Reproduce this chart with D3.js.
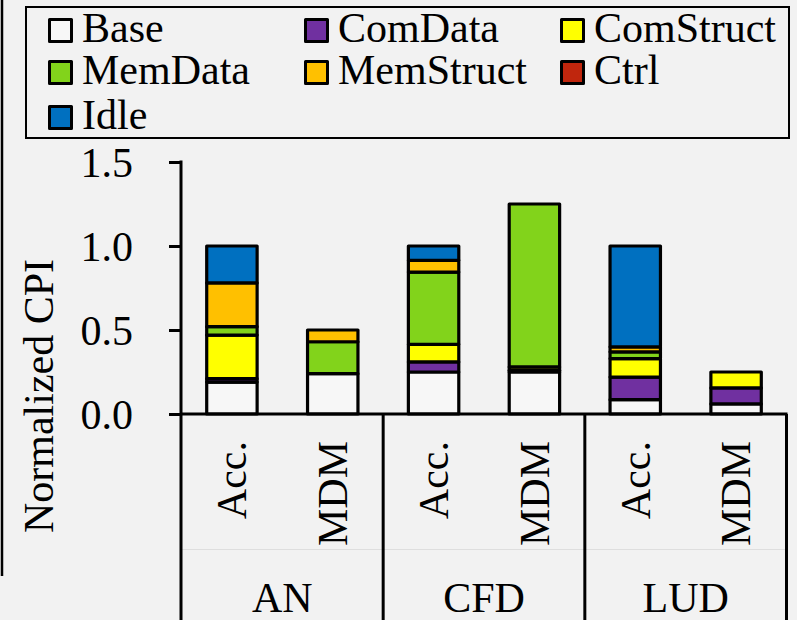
<!DOCTYPE html>
<html>
<head>
<meta charset="utf-8">
<script src="https://cdn.jsdelivr.net/npm/d3@7"></script>
<style>
  html, body { margin: 0; padding: 0; background: #f2f2f2; }
  svg { display: block; }
  text { font-family: "Liberation Serif", "Times New Roman", serif; fill: #000; }
</style>
</head>
<body>
<svg id="chart" width="797" height="620"></svg>
<script>
// Benchmarks and configurations
const groups = ["AN", "CFD", "LUD"];
const configs = ["Acc.", "MDM"];
const seriesNames = ["Base", "ComData", "ComStruct", "MemData", "MemStruct", "Ctrl", "Idle"];
const seriesColors = ["#f7f7f7", "#7030a0", "#ffff00", "#82d31b", "#ffc000", "#c0260d", "#0070c0"];
const yTicks = [0, 0.5, 1.0, 1.5];

// CPI components per bar, ordered AN Acc., AN MDM, CFD Acc., CFD MDM, LUD Acc., LUD MDM
const base      = [0.19, 0.24, 0.25, 0.25, 0.085, 0.06];
const comData   = [0.02, 0.00, 0.06, 0.01, 0.135, 0.095];
const comStruct = [0.26, 0.00, 0.105, 0.02, 0.11, 0.095];
const memData   = [0.05, 0.19, 0.43, 0.97, 0.04, 0.00];
const memStruct = [0.26, 0.07, 0.07, 0.00, 0.03, 0.00];
const ctrl      = [0.00, 0.00, 0.00, 0.00, 0.00, 0.00];
const idle      = [0.22, 0.00, 0.085, 0.00, 0.60, 0.00];

const seriesValues = [base, comData, comStruct, memData, memStruct, ctrl, idle];

// Build rows for the stack layout
const rows = [];
groups.forEach((g, gi) => {
  configs.forEach((c, ci) => {
    const idx = gi * configs.length + ci;
    const row = { group: g, config: c };
    seriesNames.forEach((s, si) => { row[s] = seriesValues[si][idx]; });
    rows.push(row);
  });
});

const svg = d3.select("#chart");
const FONT = 42;

const x0 = d3.scaleBand().domain(groups).range([181.5, 786.5]).padding(0);
const x1 = d3.scaleBand().domain(configs).range([0, x0.bandwidth()])
  .paddingInner(0.5).paddingOuter(0.25);
const y = d3.scaleLinear().domain([0, 1.5]).range([414, 162]);
const color = d3.scaleOrdinal().domain(seriesNames).range(seriesColors);

// Outer frame line on the left
svg.append("line").attr("x1", 2).attr("x2", 2).attr("y1", 0).attr("y2", 576)
  .attr("stroke", "#000").attr("stroke-width", 2.5);

// Faint row divider inside the category table
svg.append("line").attr("x1", 181).attr("x2", 786).attr("y1", 549.5).attr("y2", 549.5)
  .attr("stroke", "#dedede").attr("stroke-width", 1);

// Stacked bars
const stacked = d3.stack().keys(seriesNames)(rows);
const barG = svg.append("g");
stacked.forEach(layer => {
  barG.append("g")
    .attr("fill", color(layer.key))
    .selectAll("rect")
    .data(layer.filter(d => d[1] - d[0] > 0))
    .join("rect")
    .attr("x", d => x0(d.data.group) + x1(d.data.config))
    .attr("width", x1.bandwidth())
    .attr("y", d => y(d[1]))
    .attr("height", d => y(d[0]) - y(d[1]))
    .attr("stroke", "#000")
    .attr("stroke-width", 3.2)
    .attr("stroke-linejoin", "round");
});

// Y axis
const yAxis = d3.axisLeft(y).tickValues(yTicks).tickFormat(d3.format(".1f"))
  .tickSize(12).tickPadding(36);
const yG = svg.append("g").attr("transform", "translate(181,0)").call(yAxis);
yG.select(".domain").remove();
yG.selectAll(".tick line").attr("stroke", "#000").attr("stroke-width", 3);
yG.selectAll(".tick text").attr("font-size", FONT)
  .attr("font-family", "Liberation Serif, Times New Roman, serif").attr("dy", "0.34em");
svg.append("line").attr("x1", 181).attr("x2", 181).attr("y1", y(1.5) - 1.5).attr("y2", 620)
  .attr("stroke", "#000").attr("stroke-width", 3);

// X axis baseline and group separators
svg.append("line").attr("x1", 181).attr("x2", 787.5).attr("y1", y(0)).attr("y2", y(0))
  .attr("stroke", "#000").attr("stroke-width", 3);
groups.forEach(g => {
  const xr = x0(g) + x0.bandwidth();
  svg.append("line").attr("x1", xr).attr("x2", xr).attr("y1", y(0)).attr("y2", 620)
    .attr("stroke", "#000").attr("stroke-width", 3);
});

// Configuration labels (rotated) and benchmark labels
rows.forEach(r => {
  const cx = x0(r.group) + x1(r.config) + x1.bandwidth() / 2;
  svg.append("text")
    .attr("transform", `translate(${cx},441) rotate(-90)`)
    .attr("text-anchor", "end")
    .attr("dy", "0.34em")
    .attr("font-size", FONT)
    .text(r.config);
});
groups.forEach(g => {
  svg.append("text")
    .attr("x", x0(g) + x0.bandwidth() / 2)
    .attr("y", 612)
    .attr("text-anchor", "middle")
    .attr("font-size", FONT)
    .text(g);
});

// Y axis title
svg.append("text")
  .attr("transform", "translate(39,396) rotate(-90)")
  .attr("text-anchor", "middle")
  .attr("dy", "0.34em")
  .attr("font-size", FONT)
  .text("Normalized CPI");

// Legend
svg.append("rect").attr("x", 26).attr("y", 7).attr("width", 763).attr("height", 131)
  .attr("fill", "none").attr("stroke", "#000").attr("stroke-width", 2);
const legCols = [49.5, 305.5, 561.5];
const legRows = [19.5, 61.5, 106.5];
seriesNames.forEach((s, i) => {
  const lx = legCols[i % 3];
  const ly = legRows[Math.floor(i / 3)];
  const item = svg.append("g").attr("transform", `translate(${lx},${ly})`);
  item.append("rect").attr("width", 22).attr("height", 22)
    .attr("fill", color(s)).attr("stroke", "#000").attr("stroke-width", 3)
    .attr("stroke-linejoin", "round");
  item.append("text").attr("x", 32.5).attr("y", 22.5)
    .attr("font-size", FONT).text(s);
});
</script>
</body>
</html>
